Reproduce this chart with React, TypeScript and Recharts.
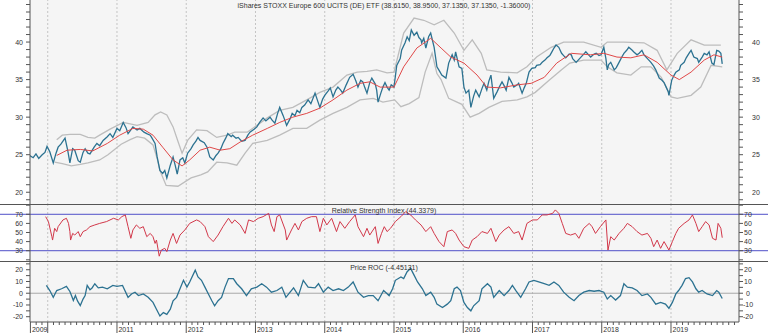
import { LineChart, Line, XAxis, YAxis, ReferenceLine } from "recharts"

// time axis runs in decimal years
const X_MIN = 2009.744
const X_MAX = 2019.982
const YEARS = [2009, 2010, 2011, 2012, 2013, 2014, 2015, 2016, 2017, 2018, 2019]
const YEAR_LINES = [2010, 2011, 2012, 2013, 2014, 2015, 2016, 2017, 2018, 2019]
const YEAR_LABELS = ["2011", "2012", "2013", "2014", "2015", "2016", "2017", "2018", "2019"]
const FIRST_LABEL = "2009"

const TITLE = "iShares STOXX Europe 600 UCITS (DE) ETF (38.6150, 38.9500, 37.1350, 37.1350, -1.36000)"
const RSI_TITLE = "Relative Strength Index (44.3379)"
const ROC_TITLE = "Price ROC (-4.45131)"

const PRICE_TICKS = [19, 20, 21, 22, 23, 24, 25, 26, 27, 28, 29, 30, 31, 32, 33, 34, 35, 36, 37, 38, 39, 40, 41, 42, 43, 44, 45]
const PRICE_LABELS = [20, 25, 30, 35, 40]
const RSI_TICKS = [20, 30, 40, 50, 60, 70, 80]
const RSI_LABELS = [30, 40, 50, 60, 70]
const ROC_TICKS = [-20, -15, -10, -5, 0, 5, 10, 15, 20, 25]
const ROC_LABELS = [-20, -10, 0, 10, 20]
const RSI_LEVELS = [70, 30]

const price = [
  [2009.74, 24.9], [2009.79, 24.6], [2009.83, 25.1], [2009.87, 24.5], [2009.92, 25.0], [2009.96, 25.3], [2009.99, 26.1],
  [2010.03, 25.4], [2010.08, 23.9], [2010.12, 25.2], [2010.15, 26.0], [2010.19, 26.4], [2010.25, 27.2], [2010.29, 25.5],
  [2010.32, 23.9], [2010.36, 25.8], [2010.39, 25.6], [2010.44, 24.2], [2010.47, 24.0], [2010.51, 25.3], [2010.54, 25.8],
  [2010.58, 25.2], [2010.61, 25.1], [2010.67, 26.0], [2010.71, 26.5], [2010.75, 26.2], [2010.80, 26.9], [2010.86, 27.4],
  [2010.90, 27.8], [2010.94, 27.3], [2011.00, 28.5], [2011.04, 28.2], [2011.09, 29.3], [2011.13, 28.6], [2011.16, 27.8],
  [2011.20, 28.3], [2011.23, 28.7], [2011.29, 28.3], [2011.33, 28.5], [2011.39, 28.0], [2011.43, 27.8], [2011.48, 27.6],
  [2011.50, 27.3], [2011.55, 26.5], [2011.58, 24.7], [2011.62, 22.9], [2011.66, 22.5], [2011.69, 22.9], [2011.72, 21.9],
  [2011.77, 23.6], [2011.81, 24.7], [2011.84, 23.6], [2011.87, 22.4], [2011.91, 24.3], [2011.95, 24.6], [2011.98, 23.9],
  [2012.02, 25.2], [2012.07, 25.8], [2012.10, 26.3], [2012.14, 26.8], [2012.17, 27.3], [2012.20, 26.9], [2012.26, 26.6],
  [2012.30, 26.0], [2012.34, 24.7], [2012.39, 24.3], [2012.43, 24.9], [2012.46, 25.2], [2012.50, 25.8], [2012.53, 26.5],
  [2012.57, 27.2], [2012.60, 27.8], [2012.65, 27.4], [2012.67, 27.6], [2012.72, 27.2], [2012.75, 27.3], [2012.80, 26.8],
  [2012.85, 26.9], [2012.89, 27.6], [2012.92, 28.0], [2012.98, 28.4], [2013.02, 28.7], [2013.06, 29.3], [2013.11, 29.9],
  [2013.15, 29.5], [2013.21, 30.0], [2013.24, 29.6], [2013.28, 29.2], [2013.32, 30.5], [2013.35, 31.3], [2013.40, 30.2],
  [2013.45, 28.9], [2013.50, 29.8], [2013.53, 30.5], [2013.57, 30.2], [2013.60, 30.9], [2013.64, 30.6], [2013.67, 31.3],
  [2013.71, 31.6], [2013.76, 32.3], [2013.80, 31.8], [2013.86, 33.2], [2013.90, 32.1], [2013.93, 31.3], [2013.97, 32.4],
  [2014.00, 32.9], [2014.05, 33.5], [2014.08, 33.9], [2014.12, 32.7], [2014.16, 33.6], [2014.19, 34.0], [2014.23, 33.6],
  [2014.26, 33.2], [2014.31, 34.3], [2014.36, 35.3], [2014.41, 35.7], [2014.45, 34.8], [2014.48, 34.0], [2014.52, 34.9],
  [2014.55, 34.7], [2014.58, 33.9], [2014.61, 33.2], [2014.65, 34.6], [2014.68, 35.2], [2014.73, 34.4], [2014.75, 33.6],
  [2014.77, 32.0], [2014.81, 33.2], [2014.84, 34.0], [2014.87, 34.6], [2014.90, 34.0], [2014.93, 33.6], [2014.96, 34.3],
  [2015.00, 34.0], [2015.04, 36.9], [2015.09, 37.8], [2015.11, 38.9], [2015.16, 39.9], [2015.19, 40.7], [2015.22, 40.2],
  [2015.25, 41.6], [2015.29, 40.9], [2015.33, 41.3], [2015.36, 40.6], [2015.39, 40.3], [2015.40, 39.9], [2015.43, 40.5],
  [2015.46, 39.2], [2015.50, 40.7], [2015.53, 41.2], [2015.58, 39.3], [2015.62, 36.7], [2015.66, 36.1], [2015.69, 35.6],
  [2015.75, 35.2], [2015.79, 37.2], [2015.84, 38.3], [2015.87, 37.6], [2015.89, 38.7], [2015.94, 36.7], [2015.98, 36.5],
  [2016.01, 34.0], [2016.04, 33.2], [2016.08, 33.6], [2016.11, 31.3], [2016.15, 32.8], [2016.18, 33.6], [2016.23, 32.7],
  [2016.27, 33.8], [2016.30, 34.5], [2016.34, 33.6], [2016.37, 34.8], [2016.40, 35.6], [2016.44, 32.5], [2016.49, 33.4],
  [2016.52, 34.0], [2016.56, 34.7], [2016.59, 34.2], [2016.62, 33.6], [2016.66, 35.3], [2016.70, 34.6], [2016.73, 34.0],
  [2016.78, 34.3], [2016.80, 34.5], [2016.85, 33.2], [2016.88, 33.9], [2016.91, 34.5], [2016.95, 36.0], [2016.99, 36.5],
  [2017.04, 36.6], [2017.06, 36.9], [2017.11, 37.0], [2017.14, 37.3], [2017.18, 37.6], [2017.21, 37.9], [2017.25, 38.2],
  [2017.28, 38.7], [2017.31, 39.2], [2017.34, 39.6], [2017.38, 39.3], [2017.42, 38.5], [2017.45, 38.2], [2017.48, 37.9],
  [2017.53, 38.4], [2017.56, 38.3], [2017.58, 37.8], [2017.63, 37.3], [2017.67, 37.7], [2017.70, 38.0], [2017.74, 38.4],
  [2017.77, 38.7], [2017.82, 38.2], [2017.84, 38.0], [2017.89, 38.4], [2017.92, 38.5], [2017.96, 38.2], [2017.99, 38.3],
  [2018.03, 39.3], [2018.06, 37.8], [2018.08, 36.3], [2018.10, 37.0], [2018.13, 37.3], [2018.18, 36.3], [2018.21, 36.6],
  [2018.25, 37.3], [2018.29, 38.0], [2018.32, 38.5], [2018.36, 38.9], [2018.39, 39.3], [2018.44, 38.9], [2018.46, 38.7],
  [2018.51, 38.3], [2018.54, 38.5], [2018.58, 38.9], [2018.61, 38.3], [2018.65, 37.9], [2018.68, 37.6], [2018.71, 37.3],
  [2018.75, 36.8], [2018.78, 36.3], [2018.83, 35.2], [2018.87, 34.9], [2018.90, 34.6], [2018.93, 34.0], [2018.96, 33.4],
  [2018.97, 32.9], [2019.01, 34.9], [2019.04, 35.5], [2019.07, 36.0], [2019.12, 36.3], [2019.14, 36.9], [2019.19, 37.3],
  [2019.22, 37.9], [2019.26, 38.5], [2019.29, 38.9], [2019.33, 38.0], [2019.38, 37.8], [2019.40, 37.3], [2019.45, 38.0],
  [2019.48, 38.5], [2019.52, 38.3], [2019.55, 38.7], [2019.59, 37.2], [2019.62, 37.0], [2019.66, 38.9], [2019.69, 38.8],
  [2019.72, 38.5], [2019.74, 37.1],
]

const movingAvg = [
  [2010.13, 24.9], [2010.28, 25.6], [2010.47, 25.7], [2010.65, 25.5], [2010.86, 26.5], [2011.04, 27.6], [2011.23, 28.5],
  [2011.38, 28.4], [2011.52, 27.6], [2011.66, 26.0], [2011.81, 24.3], [2011.94, 23.5], [2012.05, 24.3], [2012.20, 25.6],
  [2012.34, 26.0], [2012.49, 25.6], [2012.63, 25.8], [2012.78, 26.7], [2012.96, 27.6], [2013.17, 28.5], [2013.35, 29.3],
  [2013.54, 30.0], [2013.74, 30.5], [2013.93, 31.2], [2014.12, 32.3], [2014.32, 33.6], [2014.51, 34.5], [2014.65, 34.7],
  [2014.80, 34.0], [2015.00, 34.0], [2015.14, 36.7], [2015.33, 39.2], [2015.53, 40.5], [2015.68, 39.2], [2015.82, 38.0],
  [2016.01, 37.2], [2016.20, 35.6], [2016.34, 34.0], [2016.54, 33.9], [2016.78, 34.3], [2016.98, 34.5], [2017.17, 35.3],
  [2017.35, 37.2], [2017.56, 38.5], [2017.84, 38.3], [2018.03, 38.5], [2018.22, 38.0], [2018.42, 37.9], [2018.61, 38.3],
  [2018.80, 37.3], [2019.00, 35.6], [2019.12, 35.0], [2019.29, 36.0], [2019.48, 37.6], [2019.62, 38.3], [2019.74, 38.0],
]

const upperBand = [
  [2010.13, 27.0], [2010.21, 27.6], [2010.32, 27.7], [2010.47, 27.7], [2010.58, 27.3], [2010.68, 27.2], [2010.75, 27.6],
  [2010.90, 28.4], [2011.09, 29.3], [2011.29, 28.9], [2011.45, 29.3], [2011.55, 30.3], [2011.63, 30.7], [2011.72, 30.3],
  [2011.81, 28.7], [2011.88, 26.8], [2011.94, 25.2], [2012.02, 26.9], [2012.15, 28.3], [2012.30, 28.2], [2012.44, 27.3],
  [2012.59, 27.6], [2012.70, 28.0], [2012.88, 28.0], [2013.02, 28.9], [2013.17, 29.9], [2013.35, 30.9], [2013.54, 31.3],
  [2013.74, 32.3], [2013.93, 33.3], [2014.12, 34.0], [2014.32, 35.6], [2014.47, 36.0], [2014.61, 36.1], [2014.75, 36.3],
  [2014.90, 35.9], [2015.00, 36.0], [2015.14, 41.2], [2015.29, 43.2], [2015.43, 42.9], [2015.58, 42.3], [2015.72, 42.9],
  [2015.87, 41.2], [2016.01, 38.9], [2016.13, 40.3], [2016.26, 38.5], [2016.34, 36.3], [2016.54, 36.0], [2016.78, 35.9],
  [2016.92, 36.7], [2017.06, 38.0], [2017.27, 39.3], [2017.45, 40.0], [2017.74, 40.0], [2017.99, 39.3], [2018.08, 40.0],
  [2018.32, 40.0], [2018.61, 39.9], [2018.80, 38.9], [2018.94, 36.3], [2019.09, 38.5], [2019.29, 40.3], [2019.48, 39.6],
  [2019.72, 39.6],
]

const lowerBand = [
  [2010.10, 24.0], [2010.21, 23.8], [2010.34, 23.5], [2010.47, 23.7], [2010.58, 23.9], [2010.75, 24.3], [2010.87, 25.0],
  [2011.06, 26.4], [2011.19, 27.0], [2011.29, 27.4], [2011.40, 27.2], [2011.52, 26.3], [2011.58, 24.5], [2011.62, 22.9],
  [2011.71, 20.9], [2011.88, 20.8], [2012.07, 21.9], [2012.21, 22.3], [2012.31, 22.7], [2012.44, 24.0], [2012.59, 23.9],
  [2012.73, 23.6], [2012.85, 25.2], [2012.96, 26.5], [2013.17, 26.9], [2013.35, 27.6], [2013.54, 28.5], [2013.74, 28.5],
  [2013.93, 29.6], [2014.12, 30.5], [2014.32, 31.3], [2014.51, 32.3], [2014.70, 32.5], [2014.84, 32.0], [2015.01, 32.3],
  [2015.10, 31.4], [2015.22, 31.8], [2015.36, 32.6], [2015.45, 36.0], [2015.55, 38.5], [2015.62, 35.8], [2015.68, 35.0],
  [2015.79, 32.5], [2015.98, 31.7], [2016.10, 30.0], [2016.23, 30.5], [2016.37, 31.3], [2016.56, 32.1], [2016.78, 32.3],
  [2016.92, 32.7], [2017.04, 33.3], [2017.24, 34.9], [2017.42, 36.3], [2017.54, 37.2], [2017.74, 37.6], [2017.99, 37.6],
  [2018.08, 36.7], [2018.22, 35.9], [2018.42, 35.6], [2018.57, 36.7], [2018.71, 36.7], [2018.86, 35.3], [2019.00, 32.7],
  [2019.09, 32.5], [2019.29, 32.9], [2019.43, 34.0], [2019.58, 36.9], [2019.74, 36.7],
]

const rsi = [
  [2009.97, 67.4], [2010.01, 62.0], [2010.06, 45.4], [2010.07, 41.7], [2010.10, 54.6], [2010.13, 51.0], [2010.15, 56.4],
  [2010.22, 63.8], [2010.27, 65.6], [2010.30, 60.0], [2010.32, 51.0], [2010.33, 41.7], [2010.36, 49.0], [2010.39, 47.2],
  [2010.44, 51.0], [2010.47, 45.4], [2010.51, 51.0], [2010.56, 52.8], [2010.61, 56.4], [2010.68, 58.3], [2010.75, 60.0],
  [2010.85, 62.0], [2010.95, 65.6], [2011.02, 63.8], [2011.07, 67.4], [2011.12, 69.3], [2011.16, 56.4], [2011.20, 43.6],
  [2011.23, 52.8], [2011.28, 58.3], [2011.33, 54.6], [2011.38, 56.4], [2011.43, 45.4], [2011.48, 49.0], [2011.52, 45.4],
  [2011.55, 38.0], [2011.57, 41.7], [2011.61, 24.0], [2011.64, 30.7], [2011.69, 32.6], [2011.72, 29.0], [2011.77, 41.7],
  [2011.81, 49.0], [2011.86, 38.0], [2011.91, 47.2], [2011.98, 52.8], [2012.05, 60.0], [2012.15, 63.8], [2012.20, 62.0],
  [2012.27, 56.4], [2012.32, 45.4], [2012.39, 40.0], [2012.46, 47.2], [2012.53, 56.4], [2012.61, 65.6], [2012.66, 60.0],
  [2012.70, 63.8], [2012.78, 58.3], [2012.85, 49.0], [2012.90, 63.8], [2012.97, 62.0], [2013.04, 65.6], [2013.11, 67.4],
  [2013.19, 71.0], [2013.23, 58.3], [2013.27, 51.0], [2013.31, 67.4], [2013.35, 69.3], [2013.43, 52.8], [2013.45, 41.7],
  [2013.52, 52.8], [2013.57, 60.0], [2013.62, 52.8], [2013.67, 62.0], [2013.74, 65.6], [2013.81, 67.4], [2013.88, 67.4],
  [2013.93, 51.0], [2013.98, 65.6], [2014.03, 58.3], [2014.10, 65.6], [2014.17, 51.0], [2014.22, 62.0], [2014.29, 54.6],
  [2014.36, 62.0], [2014.44, 69.3], [2014.48, 56.4], [2014.56, 45.4], [2014.61, 54.6], [2014.65, 47.2], [2014.73, 56.4],
  [2014.77, 38.0], [2014.82, 49.0], [2014.86, 56.4], [2014.90, 51.0], [2014.95, 54.6], [2015.02, 62.0], [2015.10, 67.4],
  [2015.17, 73.0], [2015.24, 69.3], [2015.31, 63.8], [2015.39, 58.3], [2015.46, 51.0], [2015.53, 56.4], [2015.58, 49.0],
  [2015.65, 40.0], [2015.72, 34.4], [2015.77, 51.0], [2015.84, 52.8], [2015.89, 49.0], [2015.94, 41.7], [2016.01, 34.4],
  [2016.08, 32.6], [2016.13, 41.7], [2016.20, 45.4], [2016.27, 51.0], [2016.35, 49.0], [2016.40, 54.6], [2016.47, 40.0],
  [2016.52, 47.2], [2016.59, 52.8], [2016.66, 56.4], [2016.73, 49.0], [2016.80, 51.0], [2016.85, 41.7], [2016.92, 60.0],
  [2017.00, 63.8], [2017.07, 63.8], [2017.14, 69.3], [2017.21, 69.3], [2017.29, 71.0], [2017.33, 74.8], [2017.38, 71.0],
  [2017.43, 60.0], [2017.48, 49.0], [2017.55, 47.2], [2017.62, 49.0], [2017.67, 43.6], [2017.74, 54.6], [2017.82, 60.0],
  [2017.86, 56.4], [2017.91, 49.0], [2017.98, 56.4], [2018.06, 63.8], [2018.09, 30.7], [2018.13, 45.4], [2018.18, 41.7],
  [2018.25, 49.0], [2018.32, 54.6], [2018.37, 60.0], [2018.44, 56.4], [2018.51, 51.0], [2018.58, 47.2], [2018.66, 49.0],
  [2018.71, 43.6], [2018.75, 34.4], [2018.80, 41.7], [2018.85, 32.6], [2018.90, 40.0], [2018.97, 30.7], [2019.02, 40.0],
  [2019.07, 49.0], [2019.11, 54.6], [2019.19, 60.0], [2019.26, 63.8], [2019.31, 69.3], [2019.36, 60.0], [2019.40, 51.0],
  [2019.45, 56.4], [2019.50, 62.0], [2019.55, 58.3], [2019.60, 43.6], [2019.65, 41.7], [2019.68, 60.0], [2019.72, 54.6],
  [2019.74, 44.3],
]

const roc = [
  [2009.98, 6.7], [2010.03, 2.3], [2010.08, -3.5], [2010.13, 2.3], [2010.20, 3.8], [2010.27, 5.8], [2010.32, 1.5],
  [2010.35, -3.0], [2010.37, -6.2], [2010.40, -2.0], [2010.43, -6.5], [2010.47, -10.5], [2010.51, -5.0], [2010.54, -2.0],
  [2010.57, 6.6], [2010.61, 3.0], [2010.64, 4.5], [2010.68, 8.1], [2010.73, 4.6], [2010.79, 5.2], [2010.86, 3.8],
  [2010.94, 6.7], [2011.00, 5.8], [2011.08, 6.6], [2011.16, -3.5], [2011.21, -0.6], [2011.26, 0.9], [2011.31, -2.0],
  [2011.38, -0.6], [2011.45, -3.5], [2011.52, -7.8], [2011.57, -13.6], [2011.62, -19.4], [2011.67, -16.5], [2011.72, -18.0],
  [2011.77, -13.6], [2011.81, -6.4], [2011.86, -3.5], [2011.91, 3.8], [2011.96, 11.0], [2012.01, 5.2], [2012.05, 9.6],
  [2012.13, 19.7], [2012.17, 13.9], [2012.22, 11.0], [2012.27, 5.2], [2012.32, -0.6], [2012.37, -6.4], [2012.41, -10.7],
  [2012.46, -6.4], [2012.51, -3.5], [2012.56, 5.2], [2012.61, 12.5], [2012.68, 12.5], [2012.73, 8.1], [2012.80, 3.8],
  [2012.87, -2.0], [2012.94, 3.8], [2013.02, 5.2], [2013.09, 8.1], [2013.16, 5.2], [2013.23, 0.9], [2013.31, 2.3],
  [2013.38, 5.2], [2013.44, -3.5], [2013.50, 0.9], [2013.55, 4.6], [2013.62, -2.0], [2013.69, 11.0], [2013.76, 5.2],
  [2013.86, 4.6], [2013.91, 8.1], [2013.98, 0.9], [2014.05, 5.2], [2014.12, 2.3], [2014.20, 3.8], [2014.27, 2.3],
  [2014.34, 5.2], [2014.41, 9.6], [2014.48, 0.9], [2014.56, -3.5], [2014.63, -2.0], [2014.70, -2.0], [2014.77, -6.4],
  [2014.85, 2.3], [2014.93, -2.0], [2014.98, 3.8], [2015.02, 11.0], [2015.10, 13.9], [2015.14, 12.5], [2015.19, 18.3],
  [2015.24, 21.2], [2015.29, 15.4], [2015.34, 9.6], [2015.41, 3.8], [2015.46, -2.0], [2015.53, 0.9], [2015.58, -3.5],
  [2015.62, -9.3], [2015.70, -12.2], [2015.77, -9.3], [2015.82, -6.4], [2015.87, 3.8], [2015.91, 5.2], [2015.96, 2.3],
  [2016.01, -7.8], [2016.06, -12.2], [2016.11, -15.0], [2016.15, -10.7], [2016.23, -6.4], [2016.27, 3.8], [2016.35, 8.1],
  [2016.40, 5.2], [2016.44, -3.5], [2016.52, 2.3], [2016.59, -2.0], [2016.66, 2.3], [2016.71, 6.7], [2016.76, 2.3],
  [2016.83, -3.5], [2016.90, 3.8], [2016.95, 9.6], [2017.02, 11.0], [2017.09, 9.6], [2017.17, 8.1], [2017.24, 6.7],
  [2017.31, 9.6], [2017.38, 6.7], [2017.45, 0.9], [2017.53, -3.5], [2017.60, -6.4], [2017.67, -2.0], [2017.74, 0.9],
  [2017.82, 2.3], [2017.89, 1.7], [2017.96, 2.3], [2018.03, 0.9], [2018.08, -4.9], [2018.13, -2.0], [2018.20, -5.8],
  [2018.27, -2.0], [2018.32, 8.1], [2018.37, 5.2], [2018.44, 4.6], [2018.51, 2.3], [2018.58, -2.0], [2018.66, -0.6],
  [2018.71, -3.5], [2018.78, -9.3], [2018.85, -7.8], [2018.92, -9.3], [2018.97, -12.8], [2019.02, -7.8], [2019.07, -0.6],
  [2019.11, 2.3], [2019.16, 6.7], [2019.21, 12.5], [2019.26, 13.3], [2019.31, 9.6], [2019.36, 3.8], [2019.40, 0.9],
  [2019.45, 2.3], [2019.52, -0.6], [2019.60, -2.0], [2019.66, 2.3], [2019.69, 0.9], [2019.74, -4.5],
]

const pts = (rows: number[][]) => rows.map(([t, v]) => ({ t, v }))

const MONTH_TICKS: number[] = []
YEARS.forEach((y) => {
  for (let m = 0; m < 12; m++) {
    const t = y + m / 12
    if (t >= X_MIN && t <= X_MAX) MONTH_TICKS.push(t)
  }
})

const FONT = "'Liberation Sans', Arial, sans-serif"
const TEXT = "#333"
const AXIS = "#555"
const GRID = "#c4c4c4"
const W = 768

const yTick = (labels: number[], side: "l" | "r") => (p: any) => {
  const v = p.payload.value
  if (!labels.includes(v)) return <g />
  return (
    <text x={p.x} y={p.y} dy={2.5} textAnchor={side === "l" ? "end" : "middle"} fontSize={7} fontFamily={FONT} fill={TEXT}>
      {v}
    </text>
  )
}

const xTick = (p: any) => {
  const v = p.payload.value
  const yr = Math.round(v)
  const isYear = Math.abs(v - yr) < 0.01
  const first = v === MONTH_TICKS[0]
  const label = first ? FIRST_LABEL : isYear && YEAR_LABELS.includes(String(yr)) ? String(yr) : null
  return (
    <g>
      <line x1={p.x} x2={p.x} y1={p.y} y2={p.y + (isYear || first ? 11 : 3)} stroke={AXIS} strokeWidth={1} />
      {label && (
        <text x={p.x + 1.5} y={p.y + 9.5} fontSize={7} fontFamily={FONT} fill={TEXT}>
          {label}
        </text>
      )}
    </g>
  )
}

function yAxes(domain: number[], ticks: number[], labels: number[], rightMargin: number) {
  return [
    <YAxis
      key="l"
      yAxisId="l"
      orientation="left"
      width={30}
      type="number"
      domain={domain}
      ticks={ticks}
      interval={0}
      allowDataOverflow
      tickSize={4}
      tickMargin={3}
      stroke={AXIS}
      tick={yTick(labels, "l")}
    />,
    <YAxis
      key="r"
      yAxisId="r"
      orientation="right"
      width={29}
      type="number"
      domain={domain}
      ticks={ticks}
      interval={0}
      allowDataOverflow
      tickSize={4}
      tickMargin={rightMargin}
      stroke={AXIS}
      tick={yTick(labels, "r")}
    />,
  ]
}

const yearLines = () =>
  YEAR_LINES.map((y) => (
    <ReferenceLine key={y} yAxisId="l" x={y} stroke={GRID} strokeDasharray="2 2" strokeWidth={1} />
  ))

export default function App() {
  const margin = { top: 0, right: 0, bottom: 0, left: 0 }
  return (
    <div style={{ position: "absolute", left: 0, top: 0, width: W, height: 333, background: "#fff", overflow: "hidden" }}>
      {/* plot background */}
      <div style={{ position: "absolute", left: 30, top: 0, width: 709, height: 322, background: "#f5f5f5" }} />

      {/* Price + bands + average */}
      <div style={{ position: "absolute", left: 0, top: 0 }}>
        <LineChart width={W} height={205} margin={margin}>
          <XAxis type="number" dataKey="t" domain={[X_MIN, X_MAX]} hide allowDataOverflow />
          {yAxes([18.3, 45.6], PRICE_TICKS, PRICE_LABELS, 13)}
          {yearLines()}
          <Line yAxisId="l" data={pts(upperBand)} dataKey="v" stroke="#bdbdbd" strokeWidth={1.3} dot={false} isAnimationActive={false} />
          <Line yAxisId="l" data={pts(lowerBand)} dataKey="v" stroke="#bdbdbd" strokeWidth={1.3} dot={false} isAnimationActive={false} />
          <Line yAxisId="l" data={pts(price)} dataKey="v" stroke="#2c7291" strokeWidth={1.3} dot={false} isAnimationActive={false} />
          <Line yAxisId="l" data={pts(movingAvg)} dataKey="v" stroke="#e04848" strokeWidth={1} dot={false} isAnimationActive={false} />
        </LineChart>
      </div>

      {/* RSI */}
      <div style={{ position: "absolute", left: 0, top: 205 }}>
        <LineChart width={W} height={57} margin={margin}>
          <XAxis type="number" dataKey="t" domain={[X_MIN, X_MAX]} hide allowDataOverflow />
          {yAxes([17.6, 80.2], RSI_TICKS, RSI_LABELS, 5)}
          {yearLines()}
          {RSI_LEVELS.map((lv) => (
            <ReferenceLine
              key={lv}
              yAxisId="l"
              segment={[{ x: 2009.2, y: lv }, { x: 2020.5, y: lv }]}
              ifOverflow="visible"
              stroke="#5050c8"
              strokeWidth={1}
            />
          ))}
          <Line yAxisId="l" data={pts(rsi)} dataKey="v" stroke="#d2384a" strokeWidth={1} dot={false} isAnimationActive={false} />
        </LineChart>
      </div>

      {/* Price ROC */}
      <div style={{ position: "absolute", left: 0, top: 262 }}>
        <LineChart width={W} height={71} margin={margin}>
          <XAxis
            type="number"
            dataKey="t"
            domain={[X_MIN, X_MAX]}
            allowDataOverflow
            height={11}
            ticks={MONTH_TICKS}
            interval={0}
            tickSize={0}
            tickMargin={0}
            stroke={AXIS}
            tick={xTick}
          />
          {yAxes([-24.5, 26.6], ROC_TICKS, ROC_LABELS, 5)}
          {yearLines()}
          <ReferenceLine yAxisId="l" y={0} stroke="#a8a8a8" strokeWidth={1} />
          <Line yAxisId="l" data={pts(roc)} dataKey="v" stroke="#2c7291" strokeWidth={1.3} dot={false} isAnimationActive={false} />
        </LineChart>
      </div>

      {/* panel separators */}
      <div style={{ position: "absolute", left: 0, top: 204, width: W, height: 0, borderTop: "1.5px solid #555" }} />
      <div style={{ position: "absolute", left: 0, top: 261, width: W, height: 0, borderTop: "1.5px solid #555" }} />

      {/* titles */}
      {[
        [TITLE, 2],
        [RSI_TITLE, 206.5],
        [ROC_TITLE, 264],
      ].map(([txt, top]) => (
        <div
          key={String(txt)}
          style={{
            position: "absolute",
            left: 0,
            top: Number(top),
            width: W,
            textAlign: "center",
            fontFamily: FONT,
            fontSize: 7,
            lineHeight: "8px",
            color: TEXT,
            pointerEvents: "none",
            whiteSpace: "nowrap",
          }}
        >
          {txt}
        </div>
      ))}
    </div>
  )
}
